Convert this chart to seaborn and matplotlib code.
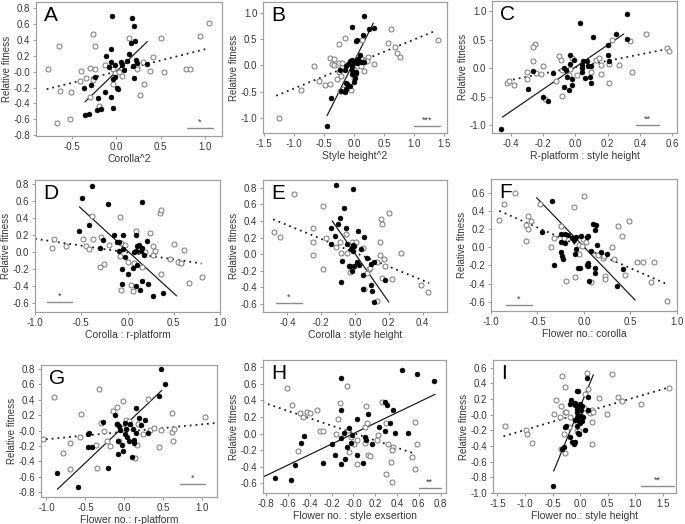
#selection gradients, 9 panels: filled = one group, open = the other
import numpy as np
import pandas as pd
import seaborn as sns
from matplotlib import pyplot as plt

# ---- panel A : Corolla^2
a_fx=[-0.045,0.18,0.20,0.21,0.17,-0.06,-0.11,0.15,-0.06,-0.08,-0.01,0.05,0.07,0.12,0.22,0.24,0.35,0.09,0.19,-0.01,-0.04,-0.24,-0.36,-0.28,-0.13,-0.20,-0.06,0.01,0.02,0.20,-0.17,-0.22,-0.03,-0.35,-0.31]
a_fy=[0.70,0.68,0.58,0.39,0.36,0.29,0.20,0.22,0.12,0.06,0.09,0.12,0.09,0.13,0.15,0.11,0.10,0.02,0.07,-0.07,-0.09,-0.06,-0.20,-0.17,-0.25,-0.33,-0.32,-0.20,-0.22,-0.08,-0.47,-0.48,-0.46,-0.54,-0.53]
a_ox=[-0.76,-0.64,-0.63,-0.51,-0.52,-0.66,-0.41,-0.39,-0.34,-0.29,-0.24,-0.26,-0.24,-0.26,-0.29,-0.19,-0.12,-0.04,-0.01,0.03,0.07,-0.03,0.14,0.23,0.24,0.30,0.31,0.27,0.38,0.42,0.50,0.54,0.79,0.83,0.94,1.04]
a_oy=[0.04,0.32,-0.24,-0.25,-0.60,-0.64,-0.12,0.01,-0.08,0.05,0.03,0.48,0.33,-0.10,-0.32,-0.43,0.08,0.03,-0.01,0.0,-0.05,-0.15,0.42,0.06,0.03,0.12,-0.16,-0.29,0.01,0.19,0.42,0.0,0.04,0.03,0.45,0.61]
a_solid=([-0.35,0.35],[-0.38,0.38])
a_dot=([-0.78,1.02],[-0.22,0.29])

# ---- panel B : Style height^2
b_fx=[0.16,-0.04,0.25,0.33,0.15,0.03,0.05,0.10,-0.03,-0.07,0.0,0.03,0.07,0.05,0.11,0.16,-0.10,-0.14,-0.03,-0.23,-0.15,-0.04,0.03,-0.03,0.04,0.01,-0.14,-0.12,-0.07,0.0,-0.22,-0.15,-0.13,-0.39,-0.46]
b_fy=[0.93,0.73,0.69,0.71,0.58,0.46,0.48,0.19,0.10,0.08,0.07,0.09,0.12,0.05,0.07,0.07,0.02,-0.01,-0.01,-0.09,-0.09,-0.08,-0.14,-0.16,-0.13,-0.24,-0.33,-0.36,-0.39,-0.31,-0.49,-0.51,-0.44,-0.62,-1.15]
b_ox=[-1.25,-0.67,-0.89,-0.59,-0.49,-0.40,-0.41,-0.33,-0.37,-0.33,-0.27,-0.25,-0.20,-0.26,-0.16,-0.25,-0.22,-0.28,-0.19,-0.23,-0.11,-0.05,-0.01,0.02,0.05,0.08,0.14,0.19,0.23,0.21,0.12,0.14,0.34,0.56,0.61,0.68,0.71,0.77,1.40,0.16]
b_oy=[-1.0,-0.02,-0.46,-0.29,-0.38,-0.36,0.14,0.13,0.03,0.0,0.0,0.04,0.04,0.41,0.51,-0.12,-0.20,-0.26,-0.45,-0.49,-0.43,-0.46,-0.23,-0.19,-0.01,0.18,0.13,0.11,0.16,0.08,-0.01,0.49,0.02,0.43,0.69,0.34,0.24,0.16,0.49,-0.11]
b_solid=([-0.45,0.32],[-0.95,0.80])
b_dot=([-1.30,1.37],[-0.575,0.66])

# ---- panel C : R-platform : style height
c_fx=[0.32,0.03,0.11,0.25,0.32,0.20,0.20,0.21,-0.03,-0.01,0.05,0.07,0.04,0.04,0.08,0.10,-0.03,-0.06,-0.07,-0.26,-0.14,0.04,-0.05,-0.02,0.06,0.09,0.10,-0.02,-0.07,-0.04,-0.29,-0.20,-0.17,-0.46]
c_fy=[0.96,0.79,0.54,0.60,0.51,0.40,0.23,0.12,0.23,0.15,0.13,0.12,0.06,0.0,0.04,0.04,0.07,-0.03,0.0,-0.05,-0.08,-0.07,-0.16,-0.19,-0.18,-0.16,-0.26,-0.29,-0.33,-0.39,-0.37,-0.50,-0.57,-1.07]
c_ox=[-0.42,-0.38,-0.41,-0.30,-0.30,-0.25,-0.26,-0.26,-0.24,-0.20,-0.21,-0.19,-0.12,-0.10,-0.09,-0.08,-0.08,-0.04,-0.02,-0.03,0.01,0.10,0.13,0.15,0.16,0.16,0.21,0.21,0.27,0.23,0.34,0.35,0.44,0.57,0.58]
c_oy=[-0.26,-0.29,-0.22,-0.19,-0.06,0.43,0.38,0.13,-0.09,0.03,-0.10,-0.54,-0.22,0.22,0.15,-0.04,-0.49,-0.12,0.18,-0.02,-0.12,-0.07,0.15,0.18,0.06,-0.10,0.08,-0.26,0.06,0.50,0.48,-0.07,0.60,0.35,0.31]
c_solid=([-0.45,0.30],[-0.86,0.60])
c_dot=([-0.42,0.56],[-0.22,0.33])

# ---- panel D : Corolla : r-platform
d_fx=[-0.38,-0.49,-0.21,0.16,-0.52,-0.42,-0.26,-0.15,-0.05,-0.30,-0.11,-0.09,-0.09,-0.05,-0.03,0.09,0.10,0.12,0.15,0.16,0.07,0.09,0.21,0.18,0.06,0.10,0.01,-0.06,-0.06,0.09,0.16,0.14,0.22,0.38,0.28]
d_fy=[0.78,0.64,0.57,0.59,0.25,0.32,0.15,0.20,0.21,0.05,0.12,0.12,0.02,0.04,-0.05,0.21,0.07,0.09,0.02,0.05,0.0,0.02,0.13,-0.03,-0.18,-0.15,-0.25,-0.20,-0.37,-0.40,-0.34,-0.44,-0.37,-0.48,-0.51]
d_ox=[-0.80,-0.82,-0.66,-0.48,-0.45,-0.42,-0.37,-0.38,-0.29,-0.30,-0.25,-0.20,-0.08,-0.07,-0.03,-0.08,0.0,0.04,0.06,-0.07,0.07,0.09,0.16,0.19,0.24,0.28,0.30,0.35,0.36,0.36,0.28,0.46,0.50,0.55,0.58,0.61,0.67,0.80]
d_oy=[0.16,0.05,0.07,0.16,0.08,0.04,0.16,0.43,0.18,-0.17,-0.14,0.09,0.41,0.11,0.09,-0.04,-0.11,-0.38,-0.45,-0.44,-0.12,0.25,-0.17,0.01,0.23,0.07,0.02,0.46,0.50,-0.25,-0.03,-0.08,0.10,-0.11,-0.12,0.03,-0.36,-0.29]
d_solid=([-0.52,0.53],[0.535,-0.51])
d_dot=([-1.0,0.80],[0.16,-0.13])

# ---- panel E : Corolla : style height
e_fx=[-0.115,-0.01,-0.065,-0.09,-0.10,-0.14,-0.055,0.016,-0.12,0.055,-0.14,-0.046,-0.01,-0.004,-0.014,-0.024,0.036,-0.075,0.01,0.07,0.11,0.095,0.026,-0.03,-0.006,-0.016,-0.036,0.05,0.18,-0.085,0.093,0.05,0.10,0.115]
e_fy=[0.83,0.79,0.56,0.44,0.36,0.32,0.32,0.28,0.22,0.21,0.12,0.12,0.11,0.10,0.04,0.06,0.06,-0.085,-0.10,-0.05,-0.10,-0.125,-0.13,-0.14,-0.15,-0.21,-0.145,-0.25,-0.31,-0.335,-0.37,-0.42,-0.45,-0.58]
e_ox=[-0.48,-0.445,-0.36,-0.25,-0.25,-0.25,-0.19,-0.19,-0.17,-0.11,-0.09,-0.08,-0.055,-0.045,-0.02,0.004,-0.03,-0.02,0.045,0.07,0.08,0.055,0.09,0.13,0.15,0.155,0.16,0.15,0.17,0.18,0.16,0.20,0.22,0.13,0.27,0.39,0.43]
e_oy=[0.27,0.21,0.72,0.31,0.14,-0.01,0.58,-0.185,0.20,0.09,0.14,0.01,0.24,0.01,0.14,0.15,-0.22,-0.18,0.077,-0.23,-0.18,-0.42,-0.165,-0.10,0.14,0.42,0.36,-0.01,-0.065,-0.15,-0.29,0.50,-0.30,-0.565,0.016,-0.375,-0.455]
e_solid=([-0.135,0.20],[0.40,-0.58])
e_dot=([-0.485,0.44],[0.42,-0.35])

# ---- panel F : Flower no.: corolla
f_fx=[-0.34,-0.45,-0.25,-0.20,-0.17,-0.125,-0.09,-0.03,0.04,0.03,0.10,0.125,0.12,-0.25,-0.20,-0.11,0.135,-0.25,-0.24,-0.23,-0.10,-0.09,0.075,0.18,0.25,0.04,0.03,0.046,-0.06,-0.04,-0.32,0.12,0.12,0.42,0.054,0.35]
f_fy=[0.51,0.17,0.15,0.15,0.14,0.10,0.11,0.125,0.125,0.11,0.26,0.24,0.19,0.055,0.045,0.077,0.026,-0.048,-0.10,-0.13,-0.073,-0.018,-0.04,-0.048,-0.073,-0.17,-0.19,-0.205,-0.23,-0.23,-0.19,-0.23,-0.285,-0.24,-0.37,-0.42]
f_ox=[-0.91,-0.86,-0.74,-0.60,-0.62,-0.60,-0.57,-0.62,-0.47,-0.35,-0.32,-0.25,-0.22,-0.19,-0.11,-0.10,-0.05,-0.05,-0.025,0.0,-0.007,0.018,0.075,0.15,0.20,0.21,0.225,0.225,0.30,0.325,0.37,0.41,0.44,0.48,0.575,0.63,0.72,0.75,0.89]
f_oy=[0.30,0.48,0.60,0.34,0.245,0.20,0.29,0.07,0.48,0.0,0.106,0.23,0.10,-0.37,0.44,-0.33,-0.077,0.026,0.015,0.56,0.09,0.06,-0.385,-0.084,-0.12,-0.095,-0.32,-0.35,0.007,-0.13,0.23,0.125,-0.30,0.29,-0.157,-0.157,-0.377,-0.157,-0.586]
f_solid=([-0.51,0.55],[0.545,-0.58])
f_dot=([-0.91,0.88],[0.40,-0.40])

# ---- panel G : Flower no.: r-platform
g_fx=[0.47,0.52,0.44,0.155,-0.116,-0.28,-0.094,-0.073,0.07,0.19,0.26,0.21,0.004,-0.05,0.026,0.11,-0.46,-0.47,0.013,0.034,0.155,0.30,-0.08,0.12,0.13,-0.03,0.056,-0.47,-0.42,-0.08,-0.017,0.10,-0.21,-0.86,-0.60]
g_fy=[0.80,0.61,0.45,0.29,0.20,0.117,0.08,0.06,0.087,0.16,0.14,0.07,0.10,0.01,0.02,0.017,-0.035,-0.05,-0.05,-0.08,-0.035,-0.035,-0.13,-0.12,-0.16,-0.18,-0.14,-0.21,-0.21,-0.30,-0.27,-0.34,-0.48,-0.55,-0.73]
g_ox=[-1.05,-0.90,-0.79,-0.70,-0.70,-0.56,-0.57,-0.37,-0.35,-0.32,-0.30,-0.26,-0.22,-0.18,-0.146,-0.10,-0.09,-0.064,-0.017,0.026,0.056,0.07,-0.02,0.14,0.163,0.17,0.24,0.30,0.33,0.38,0.44,0.47,0.61,0.61,0.635,0.63,1.03]
g_oy=[-0.11,0.43,-0.29,-0.16,-0.50,0.22,-0.08,-0.19,-0.48,0.54,0.10,0.0,-0.13,-0.195,0.26,0.30,0.08,-0.14,0.39,0.14,0.125,0.05,0.03,-0.36,-0.19,0.087,-0.043,0.41,0.01,0.04,-0.21,0.01,0.23,-0.02,0.017,-0.13,0.18]
g_solid=([-0.86,0.48],[-0.76,0.52])
g_dot=([-1.08,1.19],[-0.12,0.10])

# ---- panel H : Flower no. : style exsertion
h_fx=[0.45,0.58,0.74,-0.116,-0.11,0.29,0.31,0.36,0.13,0.03,0.34,0.235,0.29,0.38,0.50,-0.04,-0.09,-0.11,-0.01,-0.45,-0.48,-0.20,-0.024,0.11,0.12,0.17,-0.055,-0.17,0.03,-0.076,-0.116,-0.275,0.09,-0.535,-0.72,-0.575]
h_fy=[0.77,0.72,0.64,0.67,0.285,0.386,0.345,0.285,0.24,0.18,0.13,0.08,0.03,0.01,0.01,0.07,0.01,-0.06,-0.012,-0.03,-0.11,-0.13,-0.11,-0.04,-0.08,-0.13,-0.16,-0.256,-0.256,-0.305,-0.366,-0.358,-0.358,-0.378,-0.537,-0.56]
h_ox=[-0.61,-0.56,-0.49,-0.46,-0.43,-0.40,-0.33,-0.306,-0.275,-0.51,-0.14,-0.12,-0.156,-0.06,-0.046,-0.04,-0.018,0.006,0.03,0.03,0.104,0.11,0.12,0.128,0.137,0.15,0.226,0.214,0.266,0.30,0.318,0.297,0.343,0.35,0.36,0.35,0.54,0.57,0.58,0.566]
h_oy=[0.55,0.345,0.25,0.20,0.264,0.244,0.29,0.03,0.03,-0.215,0.18,0.37,0.0,0.58,0.04,-0.22,-0.04,-0.13,-0.08,-0.366,-0.11,0.073,0.333,0.13,-0.264,-0.27,-0.012,-0.073,0.386,0.13,-0.13,-0.488,-0.345,-0.59,-0.16,-0.195,-0.285,0.14,-0.13,-0.427]
h_solid=([-0.835,0.75],[-0.53,0.475])
h_dot=([-0.835,0.563],[0.378,-0.244])

# ---- panel I : Flower no.: style height
i_fx=[0.12,0.14,-0.06,-0.04,-0.17,-0.19,-0.10,-0.09,-0.03,0.0,0.03,-0.05,0.01,0.14,-0.06,-0.03,0.02,-0.05,-0.02,0.03,-0.09,-0.01,0.06,-0.28,-0.26,-0.06,-0.04,-0.02,0.08,-0.18,-0.15,-0.11,-0.10,-0.29,-0.32,-0.50]
i_fy=[0.47,0.23,0.31,0.30,0.19,0.136,0.127,0.15,0.114,0.136,0.106,0.072,0.064,0.064,0.03,0.0,-0.013,-0.04,-0.076,-0.085,-0.064,-0.106,-0.034,-0.157,-0.14,-0.14,-0.233,-0.246,-0.19,-0.284,-0.347,-0.369,-0.347,-0.415,-0.436,-0.91]
i_ox=[-1.36,-0.98,-0.96,-0.88,-0.48,-0.44,-0.36,-0.33,-0.35,-0.27,-0.28,-0.25,-0.30,-0.21,-0.19,-0.27,-0.35,-0.10,-0.06,-0.02,0.08,0.12,0.14,0.15,0.18,0.21,0.23,0.22,0.22,0.35,0.48,0.58,0.68,0.76,1.10,1.61,0.07]
i_oy=[-0.148,-0.20,-0.24,-0.36,0.008,0.19,-0.034,0.50,0.114,0.35,0.04,0.04,-0.246,-0.16,-0.034,-0.487,-0.436,-0.064,-0.21,-0.21,0.26,0.54,0.33,0.05,0.02,0.064,0.03,-0.093,-0.38,0.22,0.013,0.52,0.23,0.18,0.136,0.34,0.085]
i_solid=([-0.48,0.24],[-0.72,0.51])
i_dot=([-1.39,1.61],[-0.275,0.35])

letters=["A","B","C","D","E","F","G","H","I"]
xlabels=["Corolla^2","Style height^2","R-platform : style height",
         "Corolla : r-platform","Corolla : style height","Flower no.: corolla",
         "Flower no.: r-platform","Flower no. : style exsertion","Flower no.: style height"]
stars=["*","***","**","*","*","*","*","**","**"]

filled=[(a_fx,a_fy),(b_fx,b_fy),(c_fx,c_fy),(d_fx,d_fy),(e_fx,e_fy),(f_fx,f_fy),(g_fx,g_fy),(h_fx,h_fy),(i_fx,i_fy)]
opened=[(a_ox,a_oy),(b_ox,b_oy),(c_ox,c_oy),(d_ox,d_oy),(e_ox,e_oy),(f_ox,f_oy),(g_ox,g_oy),(h_ox,h_oy),(i_ox,i_oy)]
solids=[a_solid,b_solid,c_solid,d_solid,e_solid,f_solid,g_solid,h_solid,i_solid]
dots=[a_dot,b_dot,c_dot,d_dot,e_dot,f_dot,g_dot,h_dot,i_dot]

# layout stuff (pixel boxes: left,right,top,bottom), limits, ticks, sig-bar position
W,H=685,524
boxes=[(36,222,2,136),(263,447,2,133),(492,677,1,133),
       (35,220,180,312),(263,447,180,312),(491,677,179,311),
       (41,217,365,497),(263,446,360,493),(493,676,360,493)]
xlims=[(-0.90,1.19),(-1.52,1.55),(-0.515,0.63),(-1.0,1.0),(-0.545,0.545),(-1.0,1.0),(-1.07,1.19),(-0.83,0.85),(-1.58,1.74)]
ylims=[(-0.81,0.88),(-1.28,1.2),(-1.14,1.18),(-0.70,0.85),(-0.70,0.895),(-0.70,0.75),(-0.86,0.85),(-0.72,0.89),(-1.0,0.70)]
xticks=[[-0.5,0,0.5,1.0],np.arange(-1.5,1.51,0.5),np.arange(-0.4,0.61,0.2),np.arange(-1,1.01,0.5),np.arange(-0.4,0.41,0.2),
        np.arange(-1,1.01,0.5),np.arange(-1,1.01,0.5),np.arange(-0.8,0.81,0.2),np.arange(-1.5,1.51,0.5)]
yticks=[np.arange(-0.8,0.81,0.2),np.arange(-1,1.01,0.5),np.arange(-1,1.01,0.5),np.arange(-0.6,0.81,0.2),np.arange(-0.6,0.81,0.2),
        np.arange(-0.6,0.61,0.2),np.arange(-0.8,0.81,0.2),np.arange(-0.6,0.81,0.2),np.arange(-1.0,0.61,0.2)]
sigpos=[(0.81,0.95,0.062),(0.82,0.96,0.05),(0.78,0.90,0.063),(0.065,0.20,0.076),(0.073,0.21,0.068),
        (0.08,0.22,0.048),(0.79,0.93,0.10),(0.85,0.97,0.04),(0.81,0.99,0.055)]

sns.set_style("ticks")
plt.rcParams['font.family']=['Liberation Sans','DejaVu Sans']
plt.rcParams['axes.unicode_minus']=False
grey='#8c8c8c'
txt='#3a3a3a'

fig=plt.figure(figsize=(6.85,5.24),dpi=100)
for p in range(9):
    l,r,t,b=boxes[p]
    ax=fig.add_axes([l/W,1-b/H,(r-l)/W,(b-t)/H])
    fx,fy=filled[p]
    ox,oy=opened[p]
    dfo=pd.DataFrame({"x":ox,"y":oy})
    dff=pd.DataFrame({"x":fx,"y":fy})
    sns.lineplot(x=dots[p][0],y=dots[p][1],ax=ax,color='#202020',lw=1.3,linestyle=(0,(1,2.2)))
    sns.lineplot(x=solids[p][0],y=solids[p][1],ax=ax,color='#202020',lw=0.9)
    sns.scatterplot(data=dfo,x="x",y="y",ax=ax,s=13,facecolor='white',edgecolor='#7a7a7a',linewidth=0.7,zorder=3)
    sns.scatterplot(data=dff,x="x",y="y",ax=ax,s=13,color='black',edgecolor='black',linewidth=0.3,zorder=4)
    ax.set_xlim(xlims[p]); ax.set_ylim(ylims[p])
    ax.set_xticks(xticks[p]); ax.set_yticks(yticks[p])
    ax.set_xticklabels(["%.1f"%v for v in xticks[p]])
    ax.set_yticklabels(["%.1f"%v for v in yticks[p]])
    ax.tick_params(labelsize=7,colors=grey,labelcolor=txt,length=2.5,width=0.6,pad=1.5)
    for s in ax.spines.values():
        s.set_color('#a0a0a0'); s.set_linewidth(0.9); s.set_visible(True)
    ax.set_xlabel(xlabels[p],fontsize=7.5,color=txt,labelpad=2)
    ax.set_ylabel("Relative fitness",fontsize=7,color=txt,labelpad=1)
    ax.text(0.045,0.97,letters[p],transform=ax.transAxes,fontsize=15,va='top',ha='left',color='black')
    x0,x1,y0=sigpos[p]
    ax.plot([x0,x1],[y0,y0],transform=ax.transAxes,color=grey,lw=1.0)
    ax.text((x0+x1)/2,y0+0.01,stars[p],transform=ax.transAxes,fontsize=6.5,ha='center',va='bottom',color=txt)

fig.savefig("out.png",dpi=100)
